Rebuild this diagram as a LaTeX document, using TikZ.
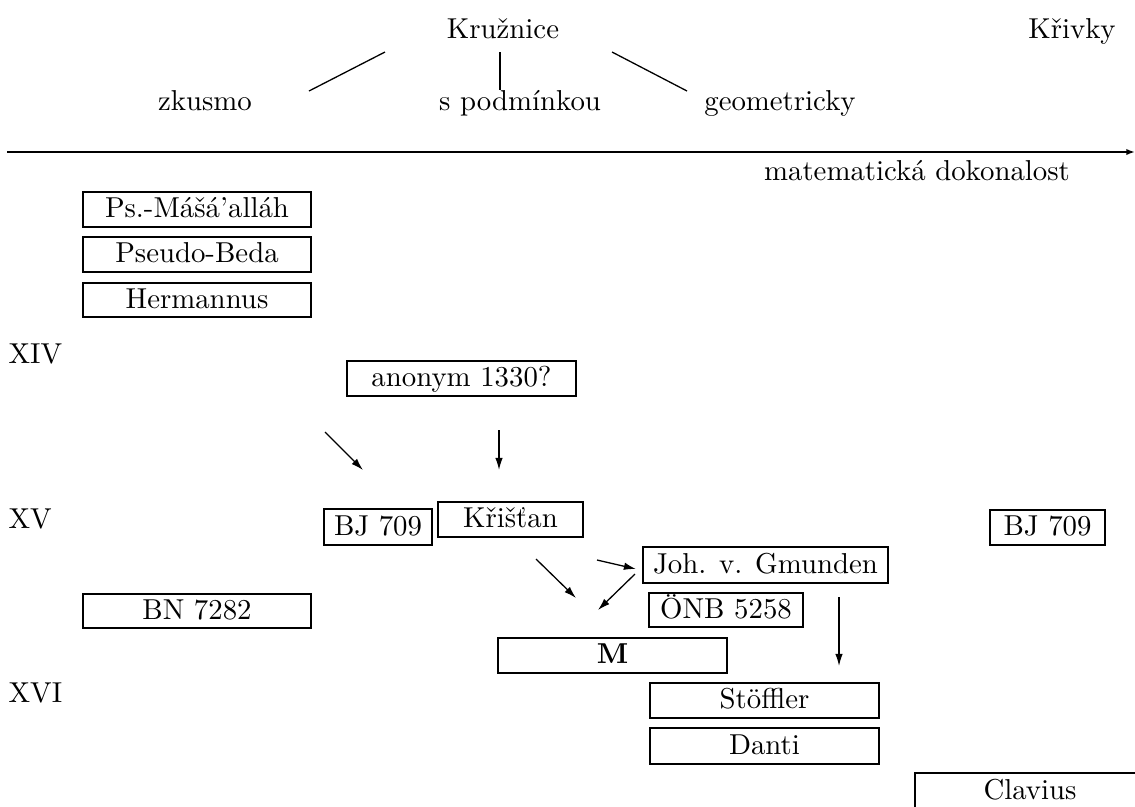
\documentclass[tikz,border=0pt]{standalone}
\usepackage{fontspec}
\usetikzlibrary{arrows.meta}
\newlength\pu
\setlength\pu{0.3472pt}
\tikzset{
  box/.style={draw,line width=0.9pt,inner sep=0pt,text height=7.6pt,text depth=1.9pt},
  lbl/.style={anchor=base,inner sep=0pt},
  thinline/.style={line width=0.45pt},
  arr/.style={line width=0.45pt,-{Latex[length=4.2pt,width=2.6pt]}},
  axis/.style={line width=0.7pt,-{Latex[length=3pt,width=2.2pt]}}
}
\newcommand\bx[6]{\node[box,minimum width={(#4-#2)*\pu},minimum height={(#5-#3)*\pu}] (#1) at ({(#2+#4)/2},{(#3+#5)/2}) {#6};}
\begin{document}
\begin{tikzpicture}[x=0.3472pt,y=-0.3472pt]
\clip (0,0) rectangle (1135,806);
% headings
\node[lbl] (kruz) at (503,38) {Kružnice};
\node[lbl] (kriv) at (1072,38) {Křivky};
\node[lbl] (zk) at (205,110) {zkusmo};
\node[lbl] (spod) at (520,110) {s podmínkou};
\node[lbl] (geo) at (780,110) {geometricky};
\coordinate (l1a) at (385,52); \coordinate (l1b) at (309,91);
\coordinate (l2a) at (500,52); \coordinate (l2b) at (500,90);
\coordinate (l3a) at (612,52); \coordinate (l3b) at (687,91);
\draw[thinline] (l1a) -- (l1b);
\draw[line width=0.7pt] (l2a) -- (l2b);
\draw[thinline] (l3a) -- (l3b);
% axis
\coordinate (ax0) at (7,152); \coordinate (ax1) at (1135,152);
\draw[axis] (ax0) -- (ax1);
\node[lbl] (mat) at (917,180) {matematická dokonalost};
% centuries
\node[lbl,anchor=base west] (c14) at (8,363) {XIV};
\node[lbl,anchor=base west] (c15) at (8,528) {XV};
\node[lbl,anchor=base west] (c16) at (8,702) {XVI};
% boxes
\bx{psm}{83}{192}{311}{227}{Ps.-Mášá'alláh}
\bx{pb}{83}{237}{311}{272}{Pseudo-Beda}
\bx{her}{83}{283}{311}{317}{Hermannus}
\bx{anon}{347}{361}{576}{396}{anonym 1330?}
\bx{bja}{324}{509}{432}{545}{BJ 709}
\bx{kr}{438}{502}{583}{537}{Křišťan}
\bx{bjb}{990}{510}{1105}{545}{BJ 709}
\bx{joh}{643}{547}{888}{583}{Joh. v. Gmunden}
\bx{onb}{649}{593}{803}{627}{ÖNB 5258}
\bx{bn}{83}{594}{311}{628}{BN 7282}
\bx{m}{498}{638}{727}{673}{\textbf{M}}
\bx{st}{650}{683}{879}{718}{Stöffler}
\bx{da}{650}{728}{879}{764}{Danti}
\bx{cl}{915}{773}{1145}{810}{Clavius}
% arrows
\coordinate (a1s) at (325,432); \coordinate (a1e) at (363,470);
\coordinate (a2s) at (499,430); \coordinate (a2e) at (499,470);
\coordinate (a3s) at (536,559); \coordinate (a3e) at (576,598);
\coordinate (a4s) at (597,560); \coordinate (a4e) at (636,569);
\coordinate (a5s) at (635,574); \coordinate (a5e) at (598,610);
\coordinate (a6s) at (839,597); \coordinate (a6e) at (839,666);
\draw[arr] (a1s) -- (a1e);
\draw[arr] (a2s) -- (a2e);
\draw[arr] (a3s) -- (a3e);
\draw[arr] (a4s) -- (a4e);
\draw[arr] (a5s) -- (a5e);
\draw[arr] (a6s) -- (a6e);
\end{tikzpicture}
\end{document}
